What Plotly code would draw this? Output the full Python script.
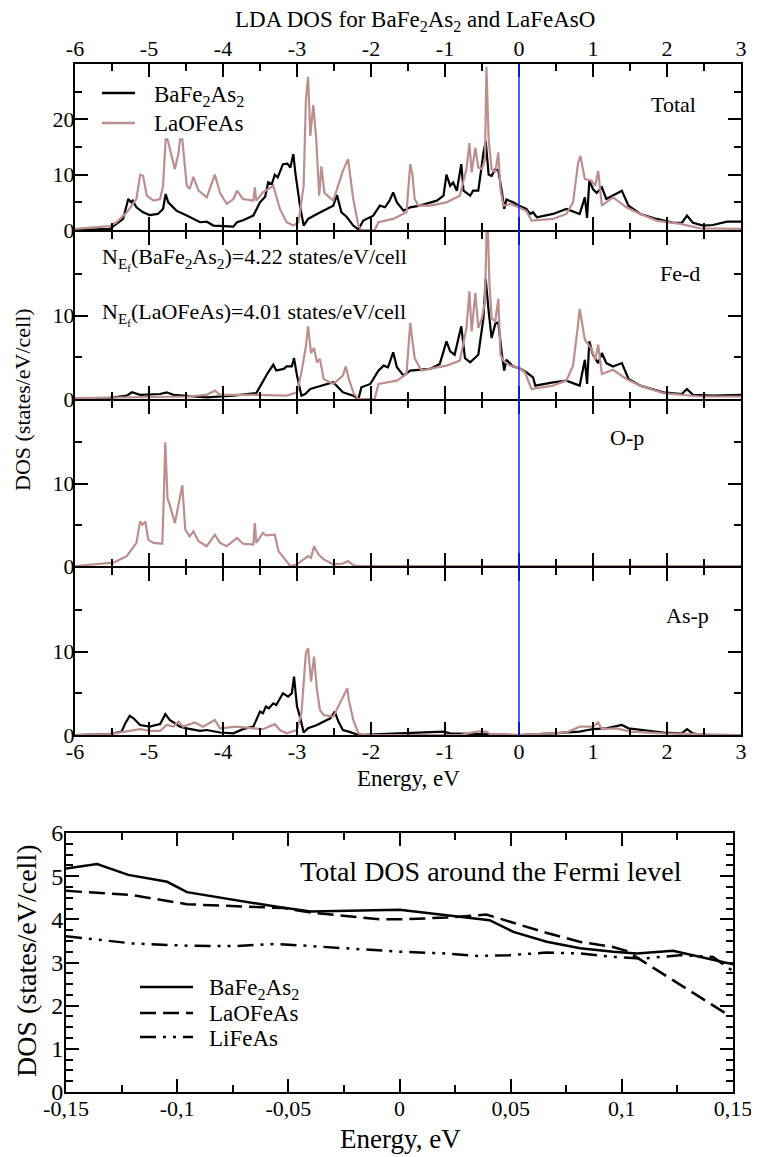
import plotly.graph_objects as go

# ---- data ----
# Total DOS
e_tot_ba = [-6.0, -5.53, -5.35, -5.28, -5.24, -5.22, -5.17, -5.08, -4.99, -4.88, -4.81, -4.775, -4.74, -4.63,
            -4.49, -4.31, -4.22, -4.13, -3.86, -3.81, -3.72, -3.59, -3.50, -3.43, -3.39, -3.34, -3.30, -3.26,
            -3.19, -3.13, -3.09, -3.05, -3.02, -2.96, -2.91, -2.85, -2.73, -2.51, -2.46, -2.40, -2.33, -2.24,
            -2.17, -2.105, -1.97, -1.88, -1.81, -1.75, -1.70, -1.65, -1.56, -1.47, -1.34, -1.11, -1.02, -0.98,
            -0.93, -0.89, -0.84, -0.78, -0.75, -0.66, -0.62, -0.55, -0.48, -0.45, -0.41, -0.37, -0.32, -0.28,
            -0.23, -0.20, -0.17, -0.08, 0.0, 0.10, 0.15, 0.19, 0.24, 0.46, 0.64, 0.82, 0.89, 0.92, 0.95, 1.0,
            1.05, 1.12, 1.18, 1.27, 1.39, 1.48, 1.64, 1.86, 2.09, 2.20, 2.27, 2.35, 2.49, 2.62, 2.81, 3.0]
dos_tot_ba = [0, 0.2, 2.0, 5.6, 5.0, 5.3, 4.1, 3.2, 2.7, 2.9, 3.8, 6.5, 5.0, 3.5,
              2.6, 1.4, 1.5, 0.8, 0.6, 1.4, 1.8, 2.6, 5.0, 6.0, 8.6, 8.3, 10.0, 9.5,
              11.9, 12.0, 11.3, 13.7, 10.1, 4.4, 0.8, 2.0, 2.9, 4.4, 6.3, 3.2, 2.4, 0.8,
              0.1, 1.7, 2.6, 4.4, 4.1, 5.3, 6.8, 5.0, 3.5, 4.1, 4.4, 5.3, 6.2, 10.0,
              8.0, 8.6, 7.1, 11.9, 7.1, 6.2, 7.1, 7.1, 14.0, 16.0, 10.0, 9.8, 11.0, 10.8,
              6.8, 3.8, 5.5, 5.0, 4.4, 3.8, 2.9, 3.2, 2.3, 2.9, 3.8, 2.9, 5.9, 2.2, 8.9, 7.4,
              6.7, 7.7, 5.6, 6.2, 7.1, 4.4, 2.9, 2.0, 1.3, 1.3, 2.6, 1.3, 0.8, 0.9, 1.5, 1.5]

e_tot_la = [-6.0, -5.53, -5.44, -5.30, -5.17, -5.12, -5.08, -5.03, -4.94, -4.85, -4.81, -4.775, -4.75, -4.65,
            -4.60, -4.58, -4.55, -4.49, -4.45, -4.40, -4.33, -4.22, -4.11, -4.04, -3.95, -3.86, -3.81, -3.73,
            -3.59, -3.57, -3.55, -3.46, -3.32, -3.23, -3.14, -3.05, -2.98, -2.91, -2.88, -2.85, -2.82, -2.78,
            -2.74, -2.70, -2.67, -2.63, -2.51, -2.38, -2.31, -2.24, -2.17, -2.13, -1.95, -1.90, -1.70, -1.52,
            -1.47, -1.44, -1.41, -1.36, -1.20, -0.98, -0.80, -0.71, -0.67, -0.64, -0.59, -0.55, -0.50, -0.46,
            -0.44, -0.41, -0.37, -0.32, -0.28, -0.25, -0.21, -0.12, 0.0, 0.10, 0.17, 0.46, 0.64, 0.73, 0.80,
            0.83, 0.89, 0.98, 1.03, 1.07, 1.12, 1.27, 1.45, 1.64, 1.86, 2.18, 2.45, 3.0]
dos_tot_la = [0.2, 0.7, 1.4, 3.2, 5.6, 10.0, 9.8, 6.2, 5.3, 5.6, 8.0, 16.4, 16.4, 11.0,
              14.0, 16.4, 16.4, 8.0, 7.4, 9.6, 7.1, 5.9, 10.0, 6.7, 4.7, 5.6, 7.1, 5.6,
              5.3, 7.7, 5.3, 6.8, 8.0, 3.8, 1.4, 0.8, 1.4, 8.0, 23.5, 27.7, 17.0, 22.6,
              16.4, 6.2, 11.5, 6.7, 5.3, 10.7, 12.8, 5.6, 0.8, 0.0, 0.0, 1.4, 2.0, 3.2,
              11.9, 10.0, 5.6, 4.4, 4.4, 5.0, 6.2, 11.0, 15.7, 10.4, 14.9, 11.3, 11.0, 12.8,
              29.5, 16.3, 11.0, 10.4, 14.0, 7.3, 4.4, 4.7, 4.1, 3.4, 1.7, 2.0, 2.9, 5.0, 12.2,
              13.4, 9.2, 8.9, 8.0, 10.7, 4.4, 5.9, 4.1, 2.9, 1.7, 1.1, 0.3, 0.2]

# Fe-d partial DOS
e_fed_ba = [-6.0, -5.55, -5.30, -5.23, -5.12, -4.85, -4.76, -4.67, -4.22, -3.86, -3.55, -3.46, -3.39, -3.32,
            -3.28, -3.18, -3.14, -3.07, -3.04, -3.00, -2.94, -2.89, -2.82, -2.51, -2.38, -2.24, -2.17, -2.13,
            -2.01, -1.90, -1.83, -1.77, -1.70, -1.65, -1.56, -1.47, -1.20, -1.07, -0.98, -0.93, -0.87, -0.78,
            -0.73, -0.66, -0.55, -0.48, -0.45, -0.41, -0.37, -0.32, -0.28, -0.23, -0.20, -0.17, -0.08, 0.0,
            0.10, 0.19, 0.22, 0.46, 0.64, 0.82, 0.89, 0.92, 0.95, 1.00, 1.07, 1.12, 1.18, 1.27, 1.39, 1.48,
            1.64, 1.95, 2.20, 2.27, 2.35, 2.62, 3.0]
dos_fed_ba = [0, 0.1, 0.4, 0.8, 0.5, 0.6, 0.8, 0.5, 0.2, 0.4, 0.7, 2.2, 3.2, 4.1,
              3.4, 3.6, 3.9, 3.9, 4.9, 2.8, 0.4, 0.6, 1.2, 2.0, 0.8, 0.4, 0.0, 1.4,
              1.8, 3.4, 4.0, 3.8, 5.6, 3.8, 2.8, 3.4, 3.6, 4.2, 6.9, 5.7, 5.3, 8.7,
              4.9, 4.4, 5.3, 9.7, 14.4, 10.5, 7.3, 9.0, 9.2, 5.3, 3.4, 4.7, 3.9, 3.7,
              3.2, 2.6, 1.6, 2.0, 2.2, 1.6, 4.7, 1.8, 6.9, 5.3, 4.3, 5.5, 4.3, 3.9, 4.3, 2.4,
              1.6, 0.8, 0.6, 1.2, 0.5, 0.4, 0.5]

e_fed_la = [-6.0, -4.49, -4.22, -4.11, -4.04, -3.55, -3.14, -3.00, -2.94, -2.88, -2.85, -2.81, -2.77, -2.73,
            -2.69, -2.64, -2.51, -2.38, -2.34, -2.30, -2.23, -2.17, -1.95, -1.90, -1.65, -1.52, -1.47, -1.44,
            -1.41, -1.32, -1.20, -0.98, -0.80, -0.71, -0.67, -0.64, -0.59, -0.55, -0.50, -0.46, -0.43, -0.40,
            -0.37, -0.32, -0.28, -0.25, -0.21, -0.12, 0.0, 0.08, 0.17, 0.46, 0.64, 0.73, 0.79, 0.82, 0.89,
            0.98, 1.03, 1.07, 1.12, 1.27, 1.45, 1.64, 1.95, 2.45, 3.0]
dos_fed_la = [0.1, 0.3, 0.5, 1.0, 0.5, 0.5, 0.4, 0.8, 3.2, 6.3, 8.7, 5.5, 6.1, 4.4,
              4.8, 2.4, 1.8, 2.8, 3.9, 2.4, 0.6, 0.0, 0.0, 1.8, 2.2, 3.0, 9.1, 7.3,
              4.9, 3.4, 3.6, 4.0, 4.6, 8.5, 12.9, 8.1, 12.7, 8.5, 9.7, 11.7, 23.0, 14.0,
              9.7, 9.3, 12.0, 5.3, 4.6, 4.0, 3.7, 3.2, 1.2, 1.6, 2.2, 4.0, 8.3, 10.8, 7.1,
              6.0, 4.7, 6.5, 3.0, 3.5, 2.4, 1.6, 0.7, 0.3, 0.3]

# O-p partial DOS (LaOFeAs only)
e_op_la = [-6.0, -5.48, -5.30, -5.17, -5.12, -5.09, -5.05, -5.01, -4.94, -4.82, -4.80, -4.78, -4.75, -4.72,
           -4.65, -4.58, -4.55, -4.51, -4.45, -4.40, -4.33, -4.22, -4.11, -4.04, -3.95, -3.81, -3.73, -3.59,
           -3.57, -3.55, -3.46, -3.42, -3.30, -3.25, -3.09, -3.00, -2.85, -2.81, -2.77, -2.71, -2.64, -2.51,
           -2.38, -2.31, -2.24, -2.17, 3.0]
dos_op_la = [0.0, 0.4, 1.2, 2.8, 5.4, 5.0, 5.4, 3.2, 2.8, 2.7, 8.4, 15.0, 8.2, 7.4,
             5.2, 8.4, 9.8, 4.4, 3.6, 4.2, 3.0, 2.4, 3.8, 2.8, 2.4, 3.4, 2.7, 2.6,
             5.2, 2.8, 4.0, 3.7, 3.8, 1.8, 0.0, 0.2, 1.2, 1.0, 2.4, 1.4, 0.8, 0.2,
             0.3, 0.6, 0.1, 0.0, 0.0]

# As-p partial DOS
e_asp_ba = [-6.0, -5.53, -5.37, -5.32, -5.26, -5.21, -5.12, -4.99, -4.85, -4.78, -4.72, -4.58, -4.49, -4.31,
            -4.22, -4.04, -3.86, -3.73, -3.59, -3.50, -3.46, -3.42, -3.38, -3.32, -3.28, -3.19, -3.12, -3.07,
            -3.04, -3.00, -2.96, -2.91, -2.85, -2.73, -2.55, -2.49, -2.44, -2.38, -2.30, -2.17, -1.88, -1.02,
            -0.93, -0.53, 0.0, 0.46, 0.82, 0.93, 1.00, 1.18, 1.39, 1.48, 1.95, 2.20, 2.27, 2.35, 2.49, 3.0]
dos_asp_ba = [0, 0.1, 0.4, 1.4, 2.3, 2.0, 1.2, 1.0, 1.3, 2.5, 1.8, 1.0, 0.8, 0.5,
              0.6, 0.3, 0.2, 0.7, 1.0, 2.8, 2.6, 3.4, 3.2, 3.8, 3.6, 5.0, 4.6, 5.0,
              7.0, 3.4, 2.2, 0.3, 0.8, 1.2, 2.0, 2.8, 1.6, 0.6, 0.4, 0.0, 0.1, 0.4,
              0.2, 0.1, 0.0, 0.2, 0.4, 0.6, 0.7, 0.8, 1.2, 0.8, 0.3, 0.2, 0.7, 0.2, 0.0, 0.0]

e_asp_la = [-6.0, -5.53, -5.12, -4.99, -4.85, -4.76, -4.67, -4.60, -4.54, -4.38, -4.27, -4.11, -4.04, -3.82,
            -3.59, -3.46, -3.30, -3.23, -3.14, -3.00, -2.94, -2.88, -2.85, -2.81, -2.77, -2.73, -2.69, -2.64,
            -2.51, -2.38, -2.32, -2.30, -2.24, -2.17, -2.10, -0.80, -0.66, -0.57, -0.44, -0.39, 0.0, 0.64,
            0.82, 1.00, 1.07, 1.12, 1.32, 1.50, 1.95, 3.0]
dos_asp_la = [0, 0.1, 0.7, 0.5, 0.5, 1.2, 1.0, 1.6, 1.0, 1.5, 1.0, 1.8, 0.8, 1.0,
              0.8, 0.7, 1.3, 0.6, 0.2, 0.6, 2.6, 9.8, 10.4, 6.4, 9.4, 5.4, 3.0, 2.4,
              2.2, 4.6, 5.6, 4.2, 1.8, 0.2, 0.0, 0.0, 0.3, 0.4, 0.4, 0.1, 0.0, 0.3,
              1.0, 1.0, 1.5, 0.7, 0.8, 0.4, 0.2, 0.0]

# Total DOS around the Fermi level
e_fl_ba = [-0.15, -0.136, -0.122, -0.1045, -0.0956, -0.0747, -0.0551, -0.040, 0.0, 0.0405, 0.0512, 0.0662,
           0.0812, 0.0962, 0.1067, 0.123, 0.135, 0.15]
dos_fl_ba = [5.18, 5.28, 5.03, 4.87, 4.63, 4.45, 4.29, 4.18, 4.22, 3.98, 3.71, 3.48, 3.33, 3.25, 3.21, 3.27, 3.13, 2.96]

e_fl_la = [-0.15, -0.12, -0.0956, -0.0522, -0.0387, -0.009, 0.0, 0.021, 0.039, 0.051, 0.066, 0.081, 0.096,
           0.102, 0.111, 0.120, 0.135, 0.148]
dos_fl_la = [4.66, 4.56, 4.35, 4.26, 4.15, 4.0, 4.0, 4.04, 4.11, 3.92, 3.69, 3.48, 3.36, 3.27, 2.98, 2.67, 2.2, 1.78]

e_fl_li = [-0.15, -0.12, -0.0956, -0.0747, -0.055, -0.039, 0.0, 0.021, 0.036, 0.0495, 0.066, 0.081, 0.096,
           0.1097, 0.126, 0.141, 0.15]
dos_fl_li = [3.61, 3.44, 3.39, 3.38, 3.43, 3.38, 3.25, 3.21, 3.15, 3.17, 3.23, 3.21, 3.13, 3.09, 3.17, 3.13, 2.8]

top_ticks = [-6, -5, -4, -3, -2, -1, 0, 1, 2, 3]
fl_ticks = [-0.15, -0.1, -0.05, 0, 0.05, 0.1, 0.15]
fl_ticktext = ["-0,15", "-0,1", "-0,05", "0", "0,05", "0,1", "0,15"]

# ---- layout helpers (pixel positions of the reference) ----
# the page body has an 8px margin, so the figure is 8px smaller and positions are shifted by it
OFF = 8
W, H = 759 - OFF, 1157 - OFF
FONT = "Liberation Serif, Times New Roman, serif"
BROWN = "#bc8f8f"


def px(x):
    return (x - OFF) / W


def py(y):
    return 1 - (y - OFF) / H


# Total, Fe-d, O-p, As-p; 2px gap so the shared borders land on the same pixels
panel_px = [(64, 230), (232, 399), (401, 566), (568, 735)]
top_xdom = [px(75), px(741)]

fig = go.Figure()

panels = [
    ("x4", "y4", e_tot_ba, dos_tot_ba, e_tot_la, dos_tot_la),
    ("x3", "y3", e_fed_ba, dos_fed_ba, e_fed_la, dos_fed_la),
    ("x2", "y2", None, None, e_op_la, dos_op_la),
    ("x", "y", e_asp_ba, dos_asp_ba, e_asp_la, dos_asp_la),
]
for xa, ya, eb, db, el, dl in panels:
    if eb is not None:
        fig.add_trace(go.Scatter(x=eb, y=db, xaxis=xa, yaxis=ya, mode="lines",
                                 line=dict(color="black", width=2.2), showlegend=False))
    fig.add_trace(go.Scatter(x=el, y=dl, xaxis=xa, yaxis=ya, mode="lines",
                             line=dict(color=BROWN, width=2.2), showlegend=False))

fig.add_trace(go.Scatter(x=e_fl_ba, y=dos_fl_ba, xaxis="x5", yaxis="y5", mode="lines",
                         line=dict(color="black", width=2.5), showlegend=False))
fig.add_trace(go.Scatter(x=e_fl_la, y=dos_fl_la, xaxis="x5", yaxis="y5", mode="lines",
                         line=dict(color="black", width=2.5, dash="16px,7px"), showlegend=False))
fig.add_trace(go.Scatter(x=e_fl_li, y=dos_fl_li, xaxis="x5", yaxis="y5", mode="lines",
                         line=dict(color="black", width=2.5, dash="16px,7px,3px,7px,3px,7px"), showlegend=False))

tickfont = dict(family=FONT, size=22, color="black")
common = dict(showline=True, linewidth=2, linecolor="black", mirror="ticks", ticks="inside",
              tickwidth=1.5, ticklen=13, tickcolor="black", showgrid=False, zeroline=False,
              automargin=False)
minor_style = dict(ticks="inside", ticklen=7, tickwidth=1.5, tickcolor="black")

# top four panels, bottom-up: x/y = As-p, x2/y2 = O-p, x3/y3 = Fe-d, x4/y4 = Total
ax_names = ["", "2", "3", "4"]
for i, name in enumerate(ax_names):
    top, bot = panel_px[3 - i]
    is_total = name == "4"
    xa = dict(common, domain=top_xdom, range=[-6, 3], anchor="y" + name,
              tickvals=top_ticks, ticktext=[str(t) for t in top_ticks], tickfont=tickfont,
              minor=dict(minor_style, dtick=0.5, tick0=-6),
              showticklabels=(name in ("", "4")), side="top" if is_total else "bottom",
              ticklabelstandoff=-3 if is_total else -4)
    ymax = 30 if is_total else 20
    ya = dict(common, domain=[py(bot), py(top)], range=[0, ymax], anchor="x" + name,
              tickvals=[0, 10, 20] if is_total else [0, 10], tickfont=tickfont,
              minor=dict(minor_style, dtick=5, tick0=0), ticklabelstandoff=-6)
    fig.update_layout({"xaxis" + name: xa, "yaxis" + name: ya})

# bottom panel
tickfont_b = dict(family=FONT, size=22, color="black")
fig.update_layout(
    xaxis5=dict(common, domain=[px(66), px(733)], range=[-0.15, 0.15], anchor="y5",
                tickvals=fl_ticks, ticktext=fl_ticktext, tickfont=tickfont_b,
                minor=dict(minor_style, dtick=0.025, tick0=-0.15), ticklabelstandoff=-4),
    yaxis5=dict(common, domain=[py(1092), py(833)], range=[0, 6], anchor="x5",
                tickvals=[0, 1, 2, 3, 4, 5, 6], tickfont=dict(tickfont_b, size=24),
                minor=dict(minor_style, dtick=0.25, tick0=0), ticklabelstandoff=-4),
)

# Fermi level marker across the four top panels
fig.add_shape(type="line", xref="x", yref="paper", x0=0, x1=0, y0=py(735), y1=py(64),
              line=dict(color="#1f1fff", width=1.5))

annotations = []


def text(s, x, y, size, anchor="center", angle=0):
    annotations.append(dict(text=s, x=px(x), y=py(y), xref="paper", yref="paper", showarrow=False,
                            xanchor=anchor, yanchor="middle", textangle=angle,
                            font=dict(family=FONT, size=size, color="black")))


text("LDA DOS for BaFe<sub>2</sub>As<sub>2</sub> and LaFeAsO", 415, 21, 23)
text("Total", 673, 105, 22)
text("Fe-d", 680, 273, 22)
text("O-p", 627, 438, 22)
text("As-p", 687, 615, 22)
text("N<sub>E<sub>f</sub></sub>(BaFe<sub>2</sub>As<sub>2</sub>)=4.22 states/eV/cell", 100, 259, 22, "left")
text("N<sub>E<sub>f</sub></sub>(LaOFeAs)=4.01 states/eV/cell", 100, 314, 22, "left")
text("DOS (states/eV/cell)", 22, 400, 22, angle=-90)
text("Energy, eV", 408, 778, 23)

# legend of the top panels
text("BaFe<sub>2</sub>As<sub>2</sub>", 152, 96, 23, "left")
text("LaOFeAs", 152, 123, 23, "left")
fig.add_shape(type="line", xref="paper", yref="paper", x0=px(102), x1=px(135), y0=py(93), y1=py(93),
              line=dict(color="black", width=2.5))
fig.add_shape(type="line", xref="paper", yref="paper", x0=px(102), x1=px(135), y0=py(123), y1=py(123),
              line=dict(color=BROWN, width=2.5))

# bottom panel texts and legend
text("Total DOS around the Fermi level", 491, 871, 28)
text("DOS (states/eV/cell)", 26, 961, 28, angle=-90)
text("Energy, eV", 400, 1139, 27)
text("BaFe<sub>2</sub>As<sub>2</sub>", 207, 989, 23, "left")
text("LaOFeAs", 207, 1013, 23, "left")
text("LiFeAs", 207, 1038, 23, "left")
for yy, dash in [(987, "solid"), (1013, "16px,7px"), (1037, "16px,7px,3px,7px,3px,7px")]:
    fig.add_shape(type="line", xref="paper", yref="paper", x0=px(140), x1=px(193), y0=py(yy), y1=py(yy),
                  line=dict(color="black", width=2.5, dash=dash))

fig.update_layout(
    width=W, height=H,
    margin=dict(l=0, r=0, t=0, b=0, autoexpand=False),
    paper_bgcolor="white", plot_bgcolor="white",
    font=dict(family=FONT, color="black"),
    annotations=annotations,
    showlegend=False,
)

fig.write_html("out.html")
